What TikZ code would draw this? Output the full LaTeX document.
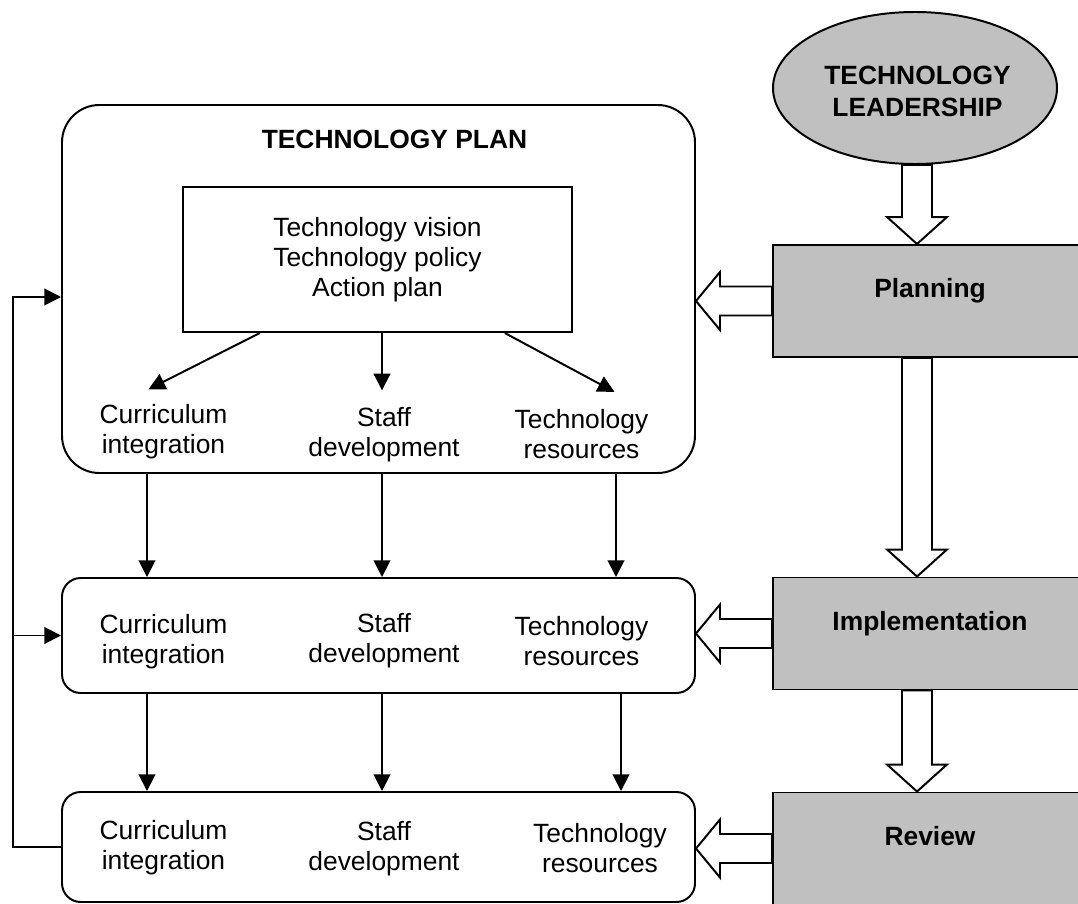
\documentclass[tikz,border=0pt]{standalone}
\usepackage{fontspec}
\setmainfont{Liberation Sans}
\usepackage{tikz}
\usetikzlibrary{arrows.meta,positioning,shapes.geometric,calc}
\definecolor{phase_gray}{RGB}{192,192,192}
\newcommand{\pxl}{0.4545pt}
\newcommand{\plainfont}{\fontsize{12}{13.6}\selectfont}
\newcommand{\boldfont}{\fontsize{12}{14.5}\selectfont\bfseries}
% hollow block arrows (start, tip)
\newcommand{\fatdown}[2]{%
  \draw[fat_arrow] ($(#1)+(-15,0)$) -- ($(#2)+(-15,-27)$) -- ($(#2)+(-30,-27)$)
    -- (#2) -- ($(#2)+(30,-27)$) -- ($(#2)+(15,-27)$) -- ($(#1)+(15,0)$) -- cycle;}
\newcommand{\fatleft}[2]{%
  \draw[fat_arrow] ($(#1)+(0,-14.5)$) -- ($(#2)+(24,-14.5)$) -- ($(#2)+(24,-29)$)
    -- (#2) -- ($(#2)+(24,29)$) -- ($(#2)+(24,14.5)$) -- ($(#1)+(0,14.5)$) -- cycle;}

\begin{document}
\begin{tikzpicture}[
      x=\pxl, y=-\pxl,
      plan_box/.style={
         draw=black,
         line width=0.9pt,
         rounded corners=#1,
         minimum width=633*\pxl,
         inner sep=0pt},
      goal_box/.style={
         draw=black,
         line width=0.9pt,
         minimum width=389*\pxl,
         minimum height=145*\pxl,
         align=center,
         font=\plainfont},
      item/.style={
         align=center,
         inner sep=0pt,
         font=\plainfont},
      lead_oval/.style={
         ellipse,
         draw=black,
         line width=0.9pt,
         fill=phase_gray,
         minimum width=284*\pxl,
         minimum height=152*\pxl,
         align=center,
         font=\boldfont},
      phase_box/.style={
         draw=black,
         line width=0.9pt,
         fill=phase_gray,
         minimum width=314*\pxl,
         minimum height=112*\pxl,
         text height=9pt,
         text depth=12pt,
         font=\boldfont},
      myarrow/.style={
        -{Triangle[length=7.6pt,width=7.6pt]},
        line width=0.9pt},
      fat_arrow/.style={
        draw=black,
        fill=white,
        line width=0.9pt},
      xs/.style = {xshift=(#1)*\pxl},
      ys/.style = {yshift=-(#1)*\pxl},
      ]
      \useasboundingbox (0,0) rectangle (1078,904);
      \clip (0,0) rectangle (1078,904);

      % technology plan
      \node[plan_box=17pt, minimum height=368*\pxl] (tplan) at (378.5,289) {};
      \node[font=\boldfont] (title) at (394.5,139) {TECHNOLOGY PLAN};
      \node[goal_box] (goals) at (377.5,259.5) {Technology vision\\Technology policy\\Action plan};

      % rows below
      \node[plan_box=8.5pt, minimum height=115*\pxl] (mid) at (378.5,635.5) {};
      \node[plan_box=8.5pt, minimum height=110*\pxl] (bot) at (378.5,847) {};

      \foreach \n/\x/\y/\txt in {% name/x/y/text
        ci1/163.5/432/Curriculum\\integration,
        sd1/384/435/Staff\\development,
        tr1/581.5/434/Technology\\resources,
        ci2/163.5/641.5/Curriculum\\integration,
        sd2/384/640.5/Staff\\development,
        tr2/581.5/641.5/Technology\\resources,
        ci3/163.5/848/Curriculum\\integration,
        sd3/384/848.5/Staff\\development,
        tr3/600/848/Technology\\resources}
        \node[item] (\n) at (\x,\y) {\txt};

      % phases
      \node[lead_oval] (lead) at (915,88) {};
      \node[font=\boldfont, align=center] (leadtxt) at (917.5,91) {TECHNOLOGY\\LEADERSHIP};
      \node[phase_box] (plan) at (930,301) {Planning};
      \node[phase_box] (impl) at (930,633.5) {Implementation};
      \node[phase_box] (rev) at (930,848.5) {Review};

      \coordinate (col) at (917,0);
      \coordinate (k1) at (147,0);
      \coordinate (k2) at (382,0);
      \coordinate (k3) at (616,0);
      \coordinate (k4) at (621,0);
      \coordinate (fb) at (13,297);

      \fatdown{col |- lead.south}{col |- plan.north}
      \fatdown{col |- plan.south}{col |- impl.north}
      \fatdown{col |- impl.south}{col |- rev.north}
      \fatleft{plan.west}{plan.west -| tplan.east}
      \fatleft{impl.west}{impl.west -| mid.east}
      \fatleft{rev.west}{rev.west -| bot.east}

    \foreach \i/\j/\dx/\dy in {% start anchor/label/x offset/y offset
      goals.212/ci1/-15/-15,
      goals.330/tr1/33/-17}
      \draw [myarrow] (\i) -- ([xs=\dx,ys=\dy]\j.north);
    \draw [myarrow] (goals.south -| k2) -- ([ys=-17]k2 |- sd1.north);

    \foreach \k/\a/\b in {% column/upper box/lower box
      k1/tplan/mid, k2/tplan/mid, k3/tplan/mid,
      k1/mid/bot, k2/mid/bot, k4/mid/bot}
      \draw [myarrow] (\k |- \a.south) -- (\k |- \b.north);

    % feedback
    \draw [myarrow] (bot.west) -| (fb) -- (fb -| tplan.west);
    \draw [myarrow] (fb |- mid.west) -- (mid.west);
\end{tikzpicture}
\end{document}
